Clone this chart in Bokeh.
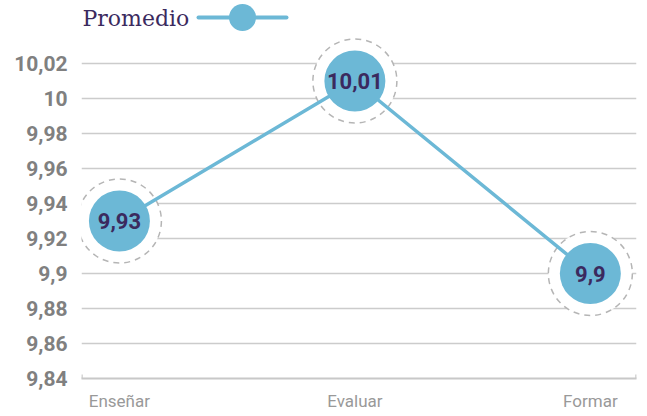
from bokeh.plotting import figure
from bokeh.models import ColumnDataSource, FixedTicker, Range1d
from bokeh.embed import file_html
from bokeh.resources import INLINE
from bokeh.core.properties import value

categories = ["Enseñar", "Evaluar", "Formar"]
promedio = [9.93, 10.01, 9.90]
point_labels = ["9,93", "10,01", "9,9"]
y_ticks = [9.84, 9.86, 9.88, 9.90, 9.92, 9.94, 9.96, 9.98, 10.00, 10.02]
y_tick_labels = ["9,84", "9,86", "9,88", "9,9", "9,92", "9,94", "9,96", "9,98", "10", "10,02"]
legend_label = "Promedio"

BLUE = "#6cb8d6"
PURPLE = "#3b2a5e"

xs = list(range(len(categories)))
src = ColumnDataSource(dict(x=xs, y=promedio, lab=point_labels))

p = figure(width=640, height=413, output_backend="svg", toolbar_location=None,
           x_range=Range1d(-0.161, 2.196), y_range=Range1d(9.84, 10.056),
           min_border_left=81, min_border_right=4, min_border_top=0,
           min_border_bottom=35, outline_line_color=None)

# page-pixel ranges for the legend (frame spans page x 81..636, y 0..378)
p.extra_x_ranges = {"px": Range1d(81, 636)}
p.extra_y_ranges = {"py": Range1d(378, 0)}

p.yaxis.ticker = FixedTicker(ticks=y_ticks)
p.yaxis.major_label_overrides = {t: l for t, l in zip(y_ticks, y_tick_labels)}
p.yaxis.axis_line_color = None
p.yaxis.major_tick_line_color = None
p.yaxis.minor_tick_line_color = None
p.yaxis.major_label_text_font = "Roboto"
p.yaxis.major_label_text_font_style = "bold"
p.yaxis.major_label_text_font_size = "21px"
p.yaxis.major_label_text_color = "#808080"
p.yaxis.major_label_standoff = 8

p.xaxis.ticker = FixedTicker(ticks=xs)
p.xaxis.major_label_overrides = {i: c for i, c in enumerate(categories)}
p.xaxis.axis_line_color = "#c8c8c8"
p.xaxis.axis_line_width = 2
p.xaxis.major_tick_line_color = None
p.xaxis.minor_tick_line_color = None
p.xaxis.major_label_text_font = "Roboto"
p.xaxis.major_label_text_font_size = "17px"
p.xaxis.major_label_text_color = "#999999"
p.xaxis.major_label_standoff = 6

p.xgrid.visible = False
p.ygrid.grid_line_color = "#cccccc"
p.ygrid.grid_line_width = 1.5

# end caps of x axis
for xe in (p.x_range.start + 0.002, p.x_range.end - 0.002):
    p.segment(x0=xe, x1=xe, y0=9.84 - 0.0023, y1=9.84 + 0.0023,
              line_color="#c8c8c8", line_width=1.5)

p.scatter("x", "y", source=src, size=84, fill_color="white", line_color="#b5b5b5",
          line_width=1.5, line_dash="6 5")
p.line("x", "y", source=src, line_color=BLUE, line_width=3.5)
p.scatter("x", "y", source=src, size=61, fill_color=BLUE, line_color=None)
p.text("x", "y", text="lab", source=src, text_font=value("Roboto"),
       text_font_style="bold", text_font_size="22px", text_color=PURPLE,
       text_align="center", text_baseline="middle")

# legend (page-pixel coordinates)
p.text(x=[82], y=[18], text=[legend_label], x_range_name="px", y_range_name="py",
       text_font=value("DejaVu Serif"), text_font_size="22px", text_color=PURPLE,
       text_align="left", text_baseline="middle")
p.line(x=[198, 286], y=[17, 17], x_range_name="px", y_range_name="py",
       line_color=BLUE, line_width=4, line_cap="round")
p.scatter(x=[242], y=[17], x_range_name="px", y_range_name="py",
          size=27, fill_color=BLUE, line_color=None)

open("out.html", "w").write(file_html(p, INLINE))
